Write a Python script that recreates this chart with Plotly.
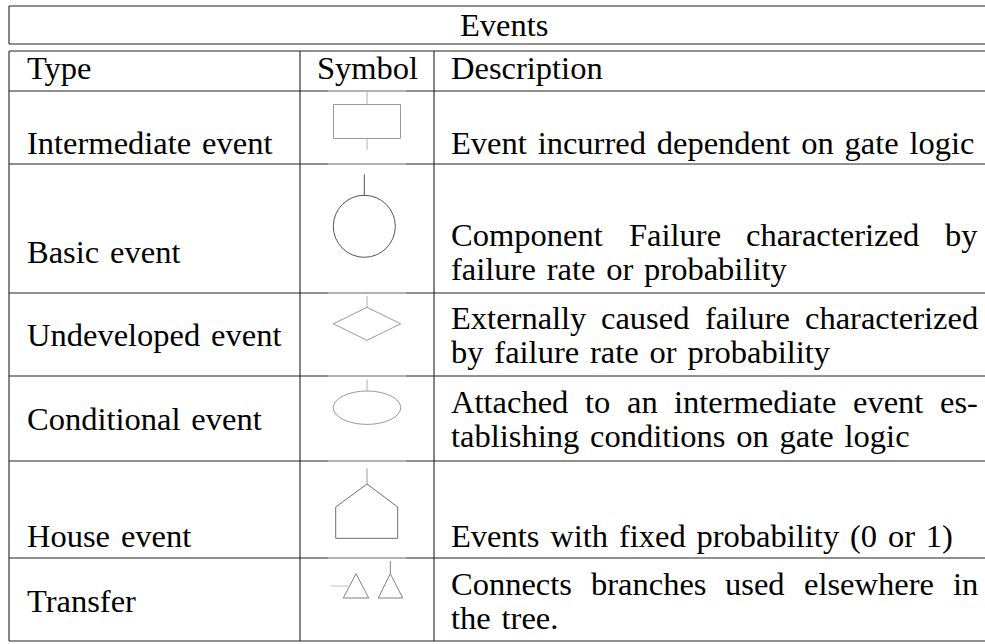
import plotly.graph_objects as go

# ---------------- data (table content) ----------------
title_text = "Events"
header_labels = ["Type", "Symbol", "Description"]
event_types = ["Intermediate event", "Basic event", "Undeveloped event",
               "Conditional event", "House event", "Transfer"]
descriptions = [
    ["Event incurred dependent on gate logic"],
    ["Component Failure characterized by", "failure rate or probability"],
    ["Externally caused failure characterized", "by failure rate or probability"],
    ["Attached to an intermediate event es-", "tablishing conditions on gate logic"],
    ["Events with fixed probability (0 or 1)"],
    ["Connects branches used elsewhere in", "the tree."],
]
symbol_kinds = ["intermediate", "basic", "undeveloped", "conditional", "house", "transfer"]

# ---------------- layout constants ----------------
W, H = 985, 644
FONT = "Liberation Serif"
FS = 32.5
SP = "\u2004"  # 1/3 em space, like Computer Modern's interword space
X_LEFT, X_COL1, X_COL2, X_RIGHT = 9, 300, 434, 995
Y_TOP, Y_TITLE_BOT, Y_HEAD_TOP = 6, 44, 51
ROW_EDGES = [91, 164, 293, 376, 461, 558, 641]
TYPE_X, DESC_X, DESC_R = 27, 451, 978
SYM_CX = 367
TYPE_Y = [142.5, 251.5, 334.5, 419, 535.5, 600.5]
DESC_Y0 = [142.5, 234.5, 317.5, 402, 535.5, 583.5]
LINE_SKIP = 34
SYM_CY = [121.5, 226.3, 323.8, 407.7, 511, 586]
RULE = "#222222"
LIGHT = "#d4d4d4"

# Times / Liberation Serif advance widths (em)
TW = {' ': .333, 'a': .444, 'b': .5, 'c': .444, 'd': .5, 'e': .444, 'f': .333, 'g': .5,
      'h': .5, 'i': .278, 'j': .278, 'k': .5, 'l': .278, 'm': .778, 'n': .5, 'o': .5,
      'p': .5, 'q': .5, 'r': .333, 's': .389, 't': .278, 'u': .5, 'v': .5, 'w': .722,
      'x': .5, 'y': .5, 'z': .444, '-': .333, '.': .25, '(': .333, ')': .333,
      '0': .5, '1': .5, 'A': .722, 'C': .667, 'E': .611, 'F': .556}


def text_w(s):
    return sum(TW.get(ch, .5) for ch in s) * FS


fig = go.Figure()
fig.add_trace(go.Scatter(x=[0, W], y=[0, H], mode="markers",
                         marker=dict(opacity=0), hoverinfo="skip", showlegend=False))

shapes = []
annots = []


def hline(y, x0, x1, color=RULE, w=1.2):
    shapes.append(dict(type="line", xref="x", yref="y", x0=x0, x1=x1, y0=y, y1=y,
                       line=dict(color=color, width=w), layer="above"))


def vline(x, y0, y1, color=RULE, w=1.1):
    shapes.append(dict(type="line", xref="x", yref="y", x0=x, x1=x, y0=y0, y1=y1,
                       line=dict(color=color, width=w), layer="above"))


def text(s, x, y, anchor="left"):
    annots.append(dict(x=x, y=y, xref="x", yref="y", text=s.replace(" ", SP),
                       showarrow=False, xanchor=anchor, yanchor="middle",
                       borderpad=0, borderwidth=0,
                       font=dict(family=FONT, size=FS, color="black")))


# title box
hline(Y_TOP, X_LEFT, X_RIGHT)
hline(Y_TITLE_BOT, X_LEFT, X_RIGHT)
vline(X_LEFT, Y_TOP, Y_TITLE_BOT)
text(title_text, 504, 25, "center")

# main table rules
hline(Y_HEAD_TOP, X_LEFT, X_RIGHT)
for y in ROW_EDGES:
    hline(y, X_LEFT, X_RIGHT)
vline(X_LEFT, Y_HEAD_TOP, ROW_EDGES[-1])
vline(X_COL1, Y_HEAD_TOP, ROW_EDGES[-1])
vline(X_COL2, Y_HEAD_TOP, ROW_EDGES[-1])
# image edges partly covering the rules inside the symbol column
for y in ROW_EDGES[:-1]:
    hline(y, 328, 406, LIGHT, 1.2)

# header
text(header_labels[0], TYPE_X, 68)
text(header_labels[1], SYM_CX, 68, "center")
text(header_labels[2], DESC_X, 68)

# rows
for r, (name, lines) in enumerate(zip(event_types, descriptions)):
    text(name, TYPE_X, TYPE_Y[r])
    for k, line in enumerate(lines):
        y = DESC_Y0[r] + k * LINE_SKIP
        justify = k < len(lines) - 1
        if not justify:
            text(line, DESC_X, y)
        else:
            words = line.split(" ")
            tot = sum(text_w(wd) for wd in words)
            gap = (DESC_R - DESC_X - tot) / (len(words) - 1)
            xx = DESC_X
            for j, wd in enumerate(words):
                if j == len(words) - 1:
                    text(wd, DESC_R, y, "right")
                else:
                    text(wd, xx, y)
                xx += text_w(wd) + gap


# symbols (drawn relative to the symbol cell centre)
def path(pts, color, w=1.0, closed=True):
    d = "M " + " L ".join(f"{px:.2f},{py:.2f}" for px, py in pts) + (" Z" if closed else "")
    shapes.append(dict(type="path", xref="x", yref="y", path=d,
                       line=dict(color=color, width=w), layer="above"))


def seg(x0, y0, x1, y1, color, w=1.0):
    shapes.append(dict(type="line", xref="x", yref="y", x0=x0, y0=y0, x1=x1, y1=y1,
                       line=dict(color=color, width=w), layer="above"))


for kind, cy in zip(symbol_kinds, SYM_CY):
    cx = SYM_CX
    if kind == "intermediate":
        shapes.append(dict(type="rect", xref="x", yref="y", x0=cx - 33.5, x1=cx + 33.5,
                           y0=cy - 17, y1=cy + 17, line=dict(color="#9a9a9a", width=1),
                           layer="above"))
        seg(cx, cy - 29.5, cx, cy - 17, "#b0b0b0")
        seg(cx, cy + 17, cx, cy + 28.5, "#b0b0b0")
    elif kind == "basic":
        c = cx - 2.7
        shapes.append(dict(type="circle", xref="x", yref="y", x0=c - 31, x1=c + 31,
                           y0=cy - 31, y1=cy + 31, line=dict(color="#555555", width=1),
                           layer="above"))
        seg(c, cy - 52, c, cy - 31, "#555555")
    elif kind == "undeveloped":
        path([(cx - 33.7, cy), (cx, cy - 16.5), (cx + 33.7, cy), (cx, cy + 16.5)], "#9a9a9a")
        seg(cx, cy - 28, cx, cy - 16.5, "#b0b0b0")
    elif kind == "conditional":
        shapes.append(dict(type="circle", xref="x", yref="y", x0=cx - 33.7, x1=cx + 33.7,
                           y0=cy - 16.7, y1=cy + 16.7, line=dict(color="#9a9a9a", width=1),
                           layer="above"))
        seg(cx, cy - 28.4, cx, cy - 16.7, "#b0b0b0")
    elif kind == "house":
        path([(cx - 31.3, cy - 4), (cx, cy - 27), (cx + 30.7, cy - 4),
              (cx + 30.7, cy + 27.3), (cx - 31.3, cy + 27.3)], "#707070")
        seg(cx, cy - 42.7, cx, cy - 27, "#9a9a9a")
    elif kind == "transfer":
        path([(cx - 23.7, cy + 12), (cx - 11, cy - 12.3), (cx + 1.7, cy + 12)], "#808080")
        seg(cx - 36, cy, cx - 17, cy, "#c0c0c0")
        path([(cx + 11.3, cy + 12), (cx + 23.3, cy - 12.3), (cx + 35.7, cy + 12)], "#808080")
        seg(cx + 23.3, cy - 25, cx + 23.3, cy - 12.3, "#808080")

fig.update_layout(
    width=W, height=H,
    margin=dict(l=0, r=0, t=0, b=0),
    paper_bgcolor="white", plot_bgcolor="white",
    xaxis=dict(range=[0, W], visible=False, fixedrange=True),
    yaxis=dict(range=[H, 0], visible=False, fixedrange=True),
    shapes=shapes, annotations=annots, showlegend=False,
)

fig.write_html("out.html", config={"displayModeBar": False, "staticPlot": True},
               post_script="document.body.style.margin='0';document.body.style.overflow='hidden';")
